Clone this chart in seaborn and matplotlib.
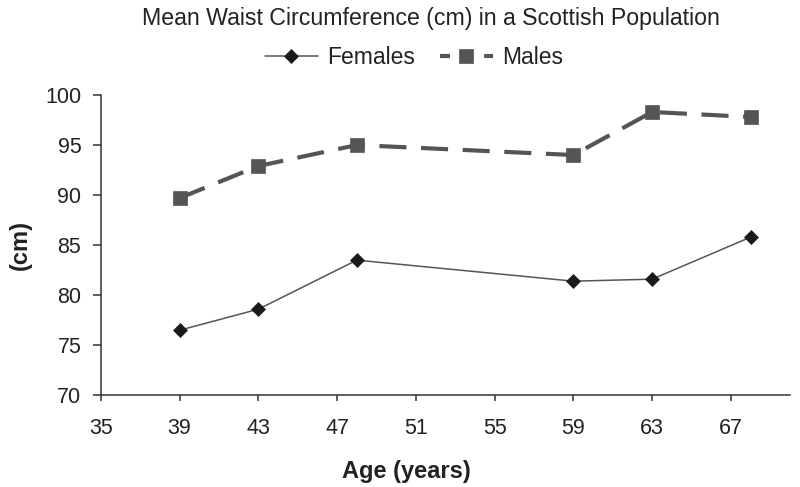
import matplotlib
matplotlib.use("Agg")
import matplotlib.pyplot as plt
from matplotlib.lines import Line2D
import seaborn as sns
import pandas as pd

ages = [39, 43, 48, 59, 63, 68]
females = [76.5, 78.6, 83.5, 81.4, 81.6, 85.8]
males = [89.7, 92.9, 95.0, 94.0, 98.3, 97.8]
x_ticks = [35, 39, 43, 47, 51, 55, 59, 63, 67]
y_ticks = [70, 75, 80, 85, 90, 95, 100]
series_names = ["Females", "Males"]

title = "Mean Waist Circumference (cm) in a Scottish Population"

sns.set_theme(style="ticks")
plt.rcParams["font.family"] = ["Liberation Sans", "DejaVu Sans"]

fig = plt.figure(figsize=(8, 4.87), dpi=100)
ax = fig.add_axes([0.126, 0.1883, 0.8615, 0.6167])

df_f = pd.DataFrame({"age": ages, "cm": females})
df_m = pd.DataFrame({"age": ages, "cm": males})

f_style = dict(color="#555555", linewidth=1.1, marker="D", markersize=7.2,
               markerfacecolor="#1a1a1a", markeredgecolor="#1a1a1a",
               markeredgewidth=0.5)
m_style = dict(color="#555555", linewidth=3.0, marker="s", markersize=9.6,
               markerfacecolor="#555555", markeredgecolor="#555555",
               markeredgewidth=0.5)

sns.lineplot(data=df_f, x="age", y="cm", ax=ax, legend=False, **f_style)
sns.lineplot(data=df_m, x="age", y="cm", ax=ax, legend=False,
             linestyle=(0, (6.5, 3.5)), **m_style)

ax.set_xlim(35, 70)
ax.set_ylim(70, 100)
ax.set_xticks(x_ticks)
ax.set_yticks(y_ticks)
ax.tick_params(axis="both", labelsize=15.5, colors="#333333", labelcolor="#222222",
               width=1.1)
ax.tick_params(axis="y", length=6, pad=8)
ax.tick_params(axis="x", length=4.5, pad=12)
for s in ["top", "right"]:
    ax.spines[s].set_visible(False)
for s in ["left", "bottom"]:
    ax.spines[s].set_color("#333333")
    ax.spines[s].set_linewidth(1.1)

ax.set_xlabel("Age (years)", fontsize=17, fontweight="bold", color="#222222")
ax.set_ylabel("(cm)", fontsize=17, fontweight="bold", color="#222222")
ax.xaxis.set_label_coords(0.443, -0.215)
ax.yaxis.set_label_coords(-0.10, 0.5)

fig.text(142 / 800, 1 - 18 / 487, title, ha="left", va="center", fontsize=16.7,
         color="#222222")

handles = [Line2D([], [], **f_style),
           Line2D([], [], linestyle=(0, (2.4, 8.2)), **m_style)]
leg = ax.legend(handles, series_names, loc="center",
                bbox_to_anchor=(414 / 800, 1 - 58 / 487),
                bbox_transform=fig.transFigure, ncol=2, frameon=False,
                fontsize=16.5, handlelength=2.3, handletextpad=0.4,
                columnspacing=1.1)
for t in leg.get_texts():
    t.set_color("#222222")

fig.savefig("out.png", dpi=100)
